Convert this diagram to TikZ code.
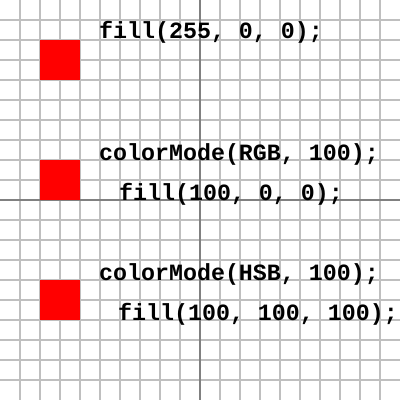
\documentclass[tikz,border=0pt]{standalone}
\usepackage{fontspec}
\setmonofont{Liberation Mono}
\begin{document}
\begin{tikzpicture}[x=1pt,y=-1pt,
  gridline/.style={draw=black!25,line width=1.6pt},
  axisline/.style={draw=black!50,line width=1.8pt},
  swatch/.style={fill=red,draw=none},
  code/.style={anchor=base west,inner sep=0pt,font=\ttfamily\bfseries\fontsize{23.3}{23.3}\selectfont}]
\useasboundingbox[fill=white] (0,0) rectangle (400,400);
\foreach \i in {20,40,...,380}{
  \draw[gridline] (\i,0) -- (\i,400);
  \draw[gridline] (0,\i) -- (400,\i);
}
\draw[axisline] (200,0) -- (200,400);
\draw[axisline] (0,200) -- (400,200);
\fill[swatch] (40,40) rectangle (80,80);
\fill[swatch] (40,160) rectangle (80,200);
\fill[swatch] (40,280) rectangle (80,320);
\node[code] (t1) at (99,38) {fill(255, 0, 0);};
\node[code] (t2) at (99,160) {colorMode(RGB, 100);};
\node[code] (t3) at (119,200) {fill(100, 0, 0);};
\node[code] (t4) at (99,280) {colorMode(HSB, 100);};
\node[code] (t5) at (118,320) {fill(100, 100, 100);};
\end{tikzpicture}
\end{document}
